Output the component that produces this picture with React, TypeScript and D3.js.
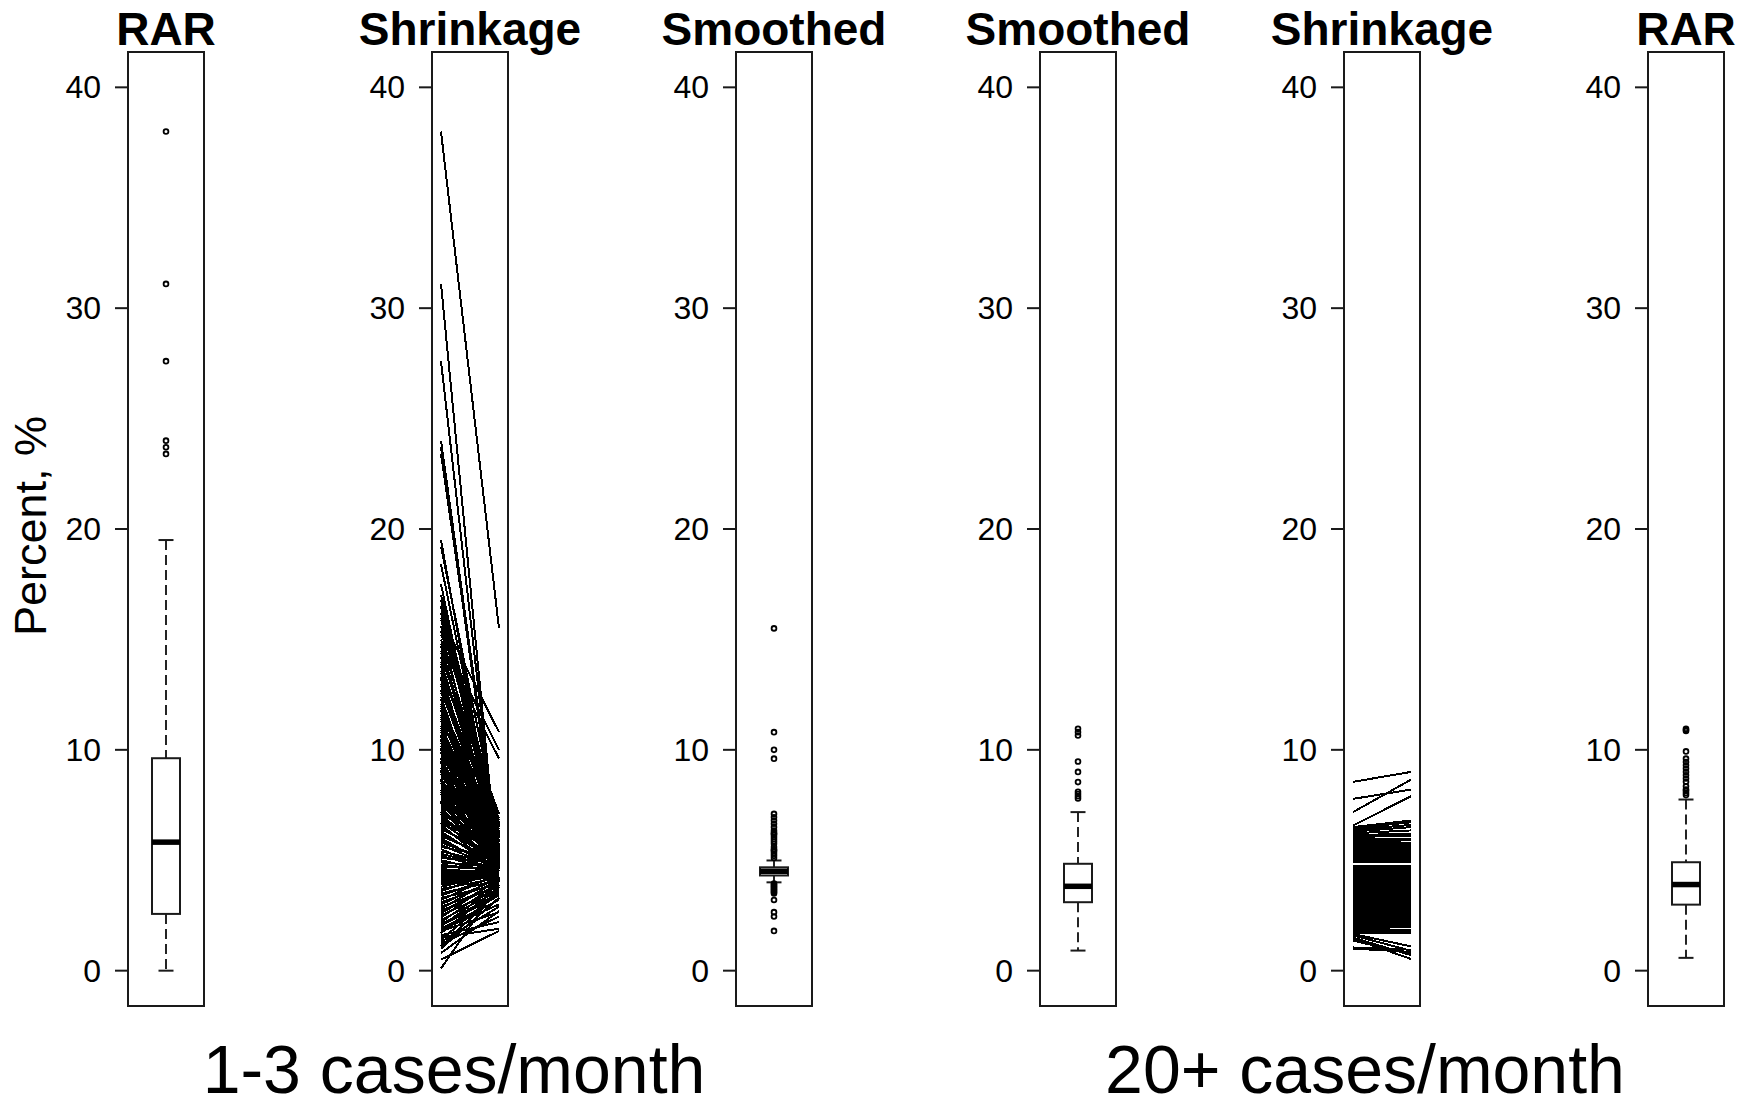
import React from "react";
import * as d3 from "d3";

const panelTitles = ["RAR", "Shrinkage", "Smoothed", "Smoothed", "Shrinkage", "RAR"];
const groupLabels = ["1-3 cases/month", "20+ cases/month"];
const yTicks = [0, 10, 20, 30, 40];

// boxplot stats: lower whisker, Q1, median, Q3, upper whisker
const rarLowStats = [0, 2.57, 5.82, 9.62, 19.5];
const rarLowOut = [38.0, 31.1, 27.6, 24.0, 23.7, 23.4];

const smLowStats = [4.0, 4.31, 4.5, 4.68, 4.99];
const smLowOut = [
  15.5, 10.8, 10.0, 9.6, 7.1, 6.95, 6.8, 6.65, 6.5, 6.35, 6.25, 6.2, 6.15, 6.05, 5.95, 5.85, 5.75,
  5.6, 5.5, 5.45, 5.4, 5.3, 5.2, 5.1, 3.95, 3.9, 3.85, 3.8, 3.75, 3.7, 3.65, 3.6, 3.55, 3.5, 3.2,
  2.65, 2.45, 1.8,
];

const smHighStats = [0.91, 3.1, 3.82, 4.84, 7.18];
const smHighOut = [10.95, 10.8, 10.65, 9.47, 9.0, 8.54, 8.1, 8.0, 7.9, 7.8];

const rarHighStats = [0.58, 2.99, 3.9, 4.91, 7.75];
const rarHighOut = [
  10.95, 10.9, 10.85, 9.93, 9.6, 9.45, 9.3, 9.15, 9.0, 8.85, 8.7, 8.55, 8.35, 8.2, 8.15, 8.05, 7.95,
];

// shrinkage, 1-3 cases/month: RAR (left) -> smoothed (right)
const shrinkLowRar = [
  38.0, 31.1, 27.6, 24.0, 23.7, 23.4, 19.5, 19.2, 18.4, 17.5, 17.0, 16.5, 16.0, 15.6, 15.2, 14.8,
  14.5, 14.2, 13.9, 13.6, 13.3, 13.0, 12.7, 12.4, 12.1, 11.9, 11.7, 11.5, 11.3, 11.1, 10.9, 10.7,
  10.6, 10.5, 10.4, 10.3, 10.2, 10.1, 10.0, 9.9, 9.8, 9.7, 9.6, 9.5, 9.4, 9.3, 9.2, 9.1, 9.0, 8.9,
  8.8, 8.7, 8.6, 8.5, 8.4, 8.3, 8.2, 8.1, 8.0, 7.9, 7.8, 7.7, 7.6, 7.5, 7.4, 7.3, 7.2, 7.1, 7.0,
  6.9, 6.8, 6.7, 6.6, 6.5, 6.4, 6.3, 6.2, 6.1, 6.0, 5.9, 5.8, 5.7, 5.6, 5.5, 5.4, 5.3, 5.2, 5.1,
  5.0, 4.9, 4.8, 4.7, 4.6, 4.5, 4.45, 4.38, 4.3, 4.22, 4.14, 4.06, 3.98, 3.9, 3.8, 3.7, 3.6, 3.5,
  3.4, 3.3, 3.2, 3.1, 3.0, 2.9, 2.8, 2.7, 2.6, 2.5, 2.4, 2.3, 2.2, 2.1, 2.0, 1.9, 1.8, 1.7, 1.5,
  1.4, 1.2, 1.0, 0.8, 0.5, 0.1,
  16.8, 16.2, 15.9, 15.4, 15.0, 14.7, 14.4, 14.0, 13.8, 13.5, 13.2, 12.9, 12.6, 12.3, 12.0, 11.8,
  11.6, 11.4, 11.2, 11.0, 10.8, 10.65, 10.45, 10.25, 10.05, 9.85, 9.65, 9.45, 9.25, 9.05, 8.85,
  8.65, 8.45, 8.25, 8.05, 7.85, 7.65, 7.45, 7.25, 7.05, 6.85, 6.65, 2.05, 1.85, 1.6, 1.3, 1.1,
];
const shrinkLowSmooth = [
  15.5, 4.0, 4.6, 5.1, 4.8, 5.3, 4.9, 6.2, 5.6, 5.0, 6.5, 5.8, 10.8, 6.8, 10.0, 9.6,
  5.4, 7.1, 6.0, 6.7, 5.2, 6.3, 5.7, 4.9, 6.1, 5.5, 6.9, 5.0, 6.4, 5.3, 5.9, 4.8,
  5.6, 4.9, 6.1, 5.2, 4.7, 5.8, 5.0, 4.6, 5.5, 6.0, 4.8, 5.3, 4.5, 5.7, 5.1, 4.7, 5.4, 4.9,
  6.0, 4.6, 5.2, 4.8, 5.6, 4.5, 5.0, 4.7, 5.3, 4.9, 4.6, 5.5, 4.8, 5.1, 4.5, 4.9, 5.2, 4.6, 4.8,
  5.4, 4.7, 5.0, 4.5, 4.9, 5.2, 4.6, 4.8, 5.0, 4.5, 4.7, 4.9, 4.6, 5.1, 4.4, 4.8, 4.6, 4.5, 4.9,
  4.4, 4.7, 4.5, 4.6, 4.4, 4.5, 4.5, 4.45, 4.5, 4.4, 4.45, 4.35, 4.4, 4.3, 4.4, 4.2, 4.5, 4.1,
  4.3, 3.9, 4.4, 4.0, 4.2, 3.8, 4.3, 3.9, 4.1, 3.7, 4.2, 3.6, 4.0, 3.5, 3.9, 3.2, 2.65, 3.8, 1.9,
  3.6, 2.45, 3.3, 2.7, 1.8, 3.9,
  6.0, 5.4, 6.6, 5.2, 6.3, 5.7, 6.8, 5.5, 6.4, 5.0, 6.1, 5.6, 6.6, 5.3, 6.0, 5.1,
  6.3, 5.7, 6.7, 5.4, 6.2, 5.9, 6.5, 5.5, 6.4, 5.2, 6.2, 5.9, 6.6, 5.6, 6.3,
  5.4, 6.0, 5.7, 6.1, 5.4, 5.8, 6.2, 5.5, 5.9, 5.3, 5.6, 3.4, 3.0, 2.2, 2.9, 3.6,
];

// shrinkage, 20+ cases/month: smoothed (left) -> RAR (right)
const shrinkHighSmooth = [
  8.55, 7.78, 7.18, 6.57, 6.5, 6.45, 6.38, 6.3, 6.22, 6.14, 6.06, 5.98, 5.9, 5.82, 5.74, 5.66,
  5.58, 5.5, 5.42, 5.34, 5.26, 5.18, 5.1, 5.02, 4.94, 4.75, 4.67, 4.59, 4.51, 4.43, 4.35, 4.27,
  4.19, 4.11, 4.03, 3.95, 3.87, 3.79, 3.71, 3.63, 3.55, 3.47, 3.39, 3.31, 3.23, 3.15, 3.07, 2.99,
  2.91, 2.83, 2.75, 2.67, 2.59, 2.51, 2.43, 2.35, 2.27, 2.19, 2.11, 2.03, 1.95, 1.87, 1.79, 1.72,
  1.66, 1.6, 1.5, 1.45, 1.36, 1.05, 1.0,
];
const shrinkHighRar = [
  9.0, 8.2, 8.65, 7.9, 6.8, 6.72, 6.6, 6.5, 6.35, 6.2, 6.1, 5.95, 5.9, 5.8, 5.72, 5.66,
  5.55, 5.5, 5.4, 5.34, 5.25, 5.18, 5.08, 5.02, 4.92, 4.75, 4.66, 4.6, 4.5, 4.43, 4.34, 4.27,
  4.2, 4.1, 4.03, 3.94, 3.87, 3.8, 3.7, 3.63, 3.56, 3.47, 3.38, 3.31, 3.24, 3.15, 3.06, 2.99,
  2.92, 2.83, 2.74, 2.67, 2.6, 2.51, 2.42, 2.35, 2.28, 2.19, 2.1, 2.03, 1.96, 1.86, 1.78, 1.7,
  1.1, 0.9, 0.7, 0.53, 0.75, 0.95, 0.85,
];

const W = 1752;
const H = 1108;
const panelW = 76;
const inset = 9;
const font = "'Liberation Sans', Arial, sans-serif";
const ink = "#1a1a1a";

const px = d3.scaleLinear().domain([0, 5]).range([128, 1648]);
const y = d3.scaleLinear().domain([-1.6, 41.6]).range([1006, 52]);

const Box = ({ cx, stats, out }: { cx: number; stats: number[]; out: number[] }) => {
  const [lo, q1, med, q3, hi] = stats;
  const bw = 28;
  const cw = 15;
  return (
    <g>
      <line x1={cx} x2={cx} y1={y(hi)} y2={y(q3)} stroke={ink} strokeWidth={1.9} strokeDasharray="10,5" />
      <line x1={cx} x2={cx} y1={y(q1)} y2={y(lo)} stroke={ink} strokeWidth={1.9} strokeDasharray="10,5" />
      <line x1={cx - cw / 2} x2={cx + cw / 2} y1={y(hi)} y2={y(hi)} stroke={ink} strokeWidth={2} />
      <line x1={cx - cw / 2} x2={cx + cw / 2} y1={y(lo)} y2={y(lo)} stroke={ink} strokeWidth={2} />
      <rect x={cx - bw / 2} y={y(q3)} width={bw} height={y(q1) - y(q3)} fill="white" stroke={ink} strokeWidth={2} />
      <line x1={cx - bw / 2} x2={cx + bw / 2} y1={y(med)} y2={y(med)} stroke="#000" strokeWidth={5.5} />
      {out.map((v, i) => (
        <circle key={i} cx={cx} cy={y(v)} r={2.4} fill="none" stroke="#000" strokeWidth={1.8} />
      ))}
    </g>
  );
};

const Fan = ({ left, from, to }: { left: number; from: number[]; to: number[] }) => (
  <g shapeRendering="crispEdges">
    {from.map((v, i) => (
      <line
        key={i}
        x1={left + inset}
        x2={left + panelW - inset}
        y1={y(v)}
        y2={y(to[i])}
        stroke="#000"
        strokeWidth={2}
      />
    ))}
  </g>
);

export default function App() {
  return (
    <svg
      width={W}
      height={H}
      style={{ position: "absolute", left: 0, top: 0, background: "white" }}
      fontFamily={font}
    >
      <rect width={W} height={H} fill="white" />
      {panelTitles.map((t, i) => {
        const left = px(i);
        const cx = left + panelW / 2;
        return (
          <g key={i}>
            {i === 0 && <Box cx={cx} stats={rarLowStats} out={rarLowOut} />}
            {i === 1 && <Fan left={left} from={shrinkLowRar} to={shrinkLowSmooth} />}
            {i === 2 && <Box cx={cx} stats={smLowStats} out={smLowOut} />}
            {i === 3 && <Box cx={cx} stats={smHighStats} out={smHighOut} />}
            {i === 4 && <Fan left={left} from={shrinkHighSmooth} to={shrinkHighRar} />}
            {i === 5 && <Box cx={cx} stats={rarHighStats} out={rarHighOut} />}
            <rect x={left} y={52} width={panelW} height={1006 - 52} fill="none" stroke={ink} strokeWidth={2} />
            {yTicks.map((t2) => (
              <g key={t2}>
                <line x1={left - 13} x2={left} y1={y(t2)} y2={y(t2)} stroke={ink} strokeWidth={2} />
                <text
                  x={left - 27}
                  y={y(t2)}
                  textAnchor="end"
                  dominantBaseline="central"
                  fontSize={32}
                  fill="#000"
                >
                  {t2}
                </text>
              </g>
            ))}
            <text x={cx} y={45} textAnchor="middle" fontSize={46} fontWeight="bold" fill="#000">
              {t}
            </text>
          </g>
        );
      })}
      <text transform="translate(46,526) rotate(-90)" textAnchor="middle" fontSize={45} fill="#000">
        Percent, %
      </text>
      <text x={454} y={1093} textAnchor="middle" fontSize={68} fill="#000">
        {groupLabels[0]}
      </text>
      <text x={1365} y={1093} textAnchor="middle" fontSize={68} fill="#000">
        {groupLabels[1]}
      </text>
    </svg>
  );
}
